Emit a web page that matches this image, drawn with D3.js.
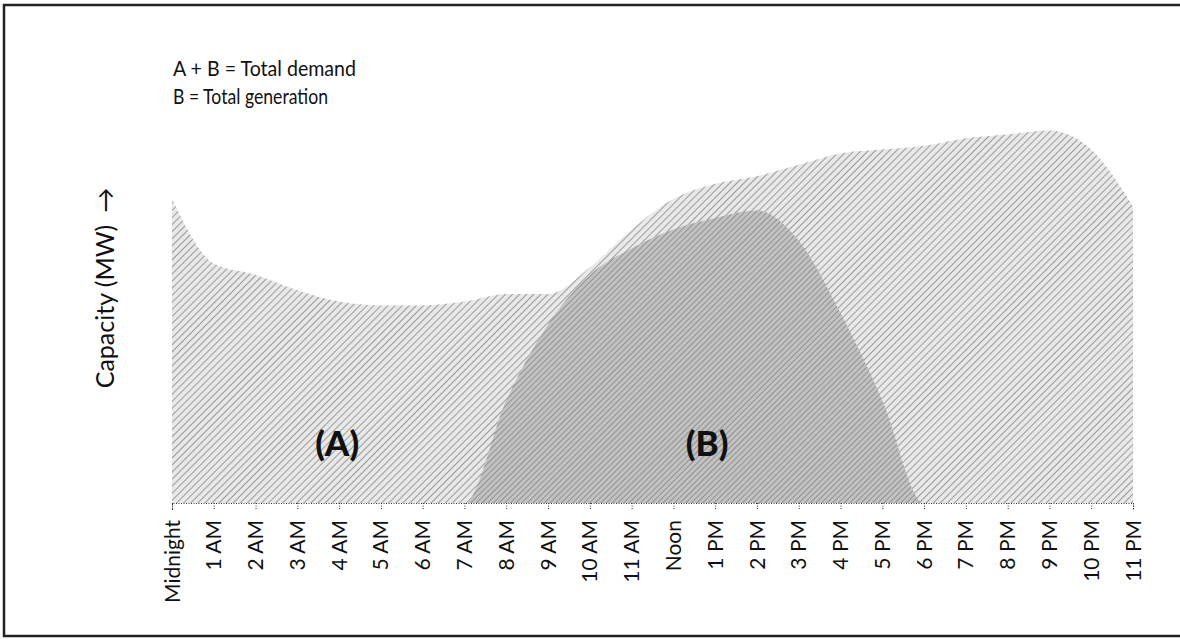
<!DOCTYPE html>
<html>
<head>
<meta charset="utf-8">
<script src="https://cdn.jsdelivr.net/npm/d3@7"></script>
<style>
  body { margin: 0; background: #fff; }
  svg { display: block; }
  text { font-family: Lato, "Open Sans", sans-serif; fill: #111; }
</style>
</head>
<body>
<div id="chart"></div>
<script>
// hours of the day (tick labels)
var hours = ["Midnight", "1 AM", "2 AM", "3 AM", "4 AM", "5 AM", "6 AM", "7 AM", "8 AM", "9 AM",
  "10 AM", "11 AM", "Noon", "1 PM", "2 PM", "3 PM", "4 PM", "5 PM", "6 PM", "7 PM",
  "8 PM", "9 PM", "10 PM", "11 PM"];

// A + B = total demand (relative capacity)
var demand = [80, 63, 60, 56, 53, 52, 52, 53, 55, 55, 62, 72, 80, 84, 86, 89, 92, 93, 94, 96, 97, 98, 93, 78];

// B = total generation (relative capacity)
var generation = [0, 0, 0, 0, 0, 0, 0, 0, 27, 47, 60, 67, 72, 75, 77, 69, 50, 27, 0, 0, 0, 0, 0, 0];

var legendLines = ["A + B = Total demand", "B = Total generation"];
var legendWidths = [183, 155];

var width = 1180;
var height = 639;

var svg = d3.select("#chart").append("svg")
  .attr("width", width)
  .attr("height", height);

var defs = svg.append("defs");

function hatch(id, bg, line, step, lw) {
  var p = defs.append("pattern")
    .attr("id", id)
    .attr("patternUnits", "userSpaceOnUse")
    .attr("width", step)
    .attr("height", step)
    .attr("patternTransform", "rotate(45)");
  p.append("rect").attr("width", step).attr("height", step).attr("fill", bg);
  p.append("line")
    .attr("x1", 0).attr("y1", 0).attr("x2", 0).attr("y2", step)
    .attr("stroke", line)
    .attr("stroke-width", lw);
}
hatch("hatchA", "#e8e8e8", "#808080", 5, 1.5);
hatch("hatchB", "#c2c2c2", "#7c7c7c", 4, 1.4);

// frame
svg.append("rect")
  .attr("x", 4).attr("y", 5)
  .attr("width", 1200).attr("height", 631)
  .attr("fill", "none")
  .attr("stroke", "#222")
  .attr("stroke-width", 2.5);

var x = d3.scalePoint()
  .domain(hours)
  .range([172, 1133]);

var y = d3.scaleLinear()
  .domain([0, 100])
  .range([503, 123]);

var area = d3.area()
  .x(function (d, i) { return x(hours[i]) })
  .y0(y(0))
  .y1(function (d) { return y(d) })
  .curve(d3.curveMonotoneX);

svg.append("path")
  .datum(demand)
  .attr("d", area)
  .attr("fill", "url(#hatchA)");

svg.append("path")
  .datum(generation)
  .attr("d", area)
  .attr("fill", "url(#hatchB)");

// x axis
var axis = svg.append("g")
  .attr("transform", "translate(0," + y(0) + ")")
  .call(d3.axisBottom(x).tickSize(7).tickFormat(""));

axis.select(".domain")
  .attr("stroke", "#333")
  .attr("stroke-dasharray", "1,1.5");
axis.selectAll(".tick line")
  .attr("stroke", "#333")
  .attr("stroke-dasharray", "1,1.5");

svg.selectAll(".hour-label")
  .data(hours)
  .enter()
  .append("text")
  .attr("class", "hour-label")
  .attr("transform", function (d) { return "translate(" + x(d) + ",520) rotate(-90)" })
  .attr("text-anchor", "end")
  .attr("dy", "0.36em")
  .style("font-size", "21px")
  .text(function (d) { return d });

// y axis title
var yTitle = svg.append("text")
  .attr("transform", "translate(114,288) rotate(-90)")
  .attr("text-anchor", "middle")
  .style("font-size", "25px");
yTitle.append("tspan").text("Capacity (MW)");
yTitle.append("tspan").attr("dx", 12).text("\u2192");

// legend
svg.selectAll(".legend")
  .data(legendLines)
  .enter()
  .append("text")
  .attr("class", "legend")
  .attr("x", 173)
  .attr("y", function (d, i) { return 76 + i * 28 })
  .attr("textLength", function (d, i) { return legendWidths[i] })
  .attr("lengthAdjust", "spacingAndGlyphs")
  .style("font-size", "22px")
  .text(function (d) { return d });

// area labels
svg.append("text")
  .attr("x", x("4 AM") - 2)
  .attr("y", 456)
  .attr("text-anchor", "middle")
  .style("font-size", "35px")
  .style("font-weight", 900)
  .text("(A)");

svg.append("text")
  .attr("x", x("1 PM") - 8)
  .attr("y", 456)
  .attr("text-anchor", "middle")
  .style("font-size", "35px")
  .style("font-weight", 900)
  .text("(B)");
</script>
</body>
</html>
